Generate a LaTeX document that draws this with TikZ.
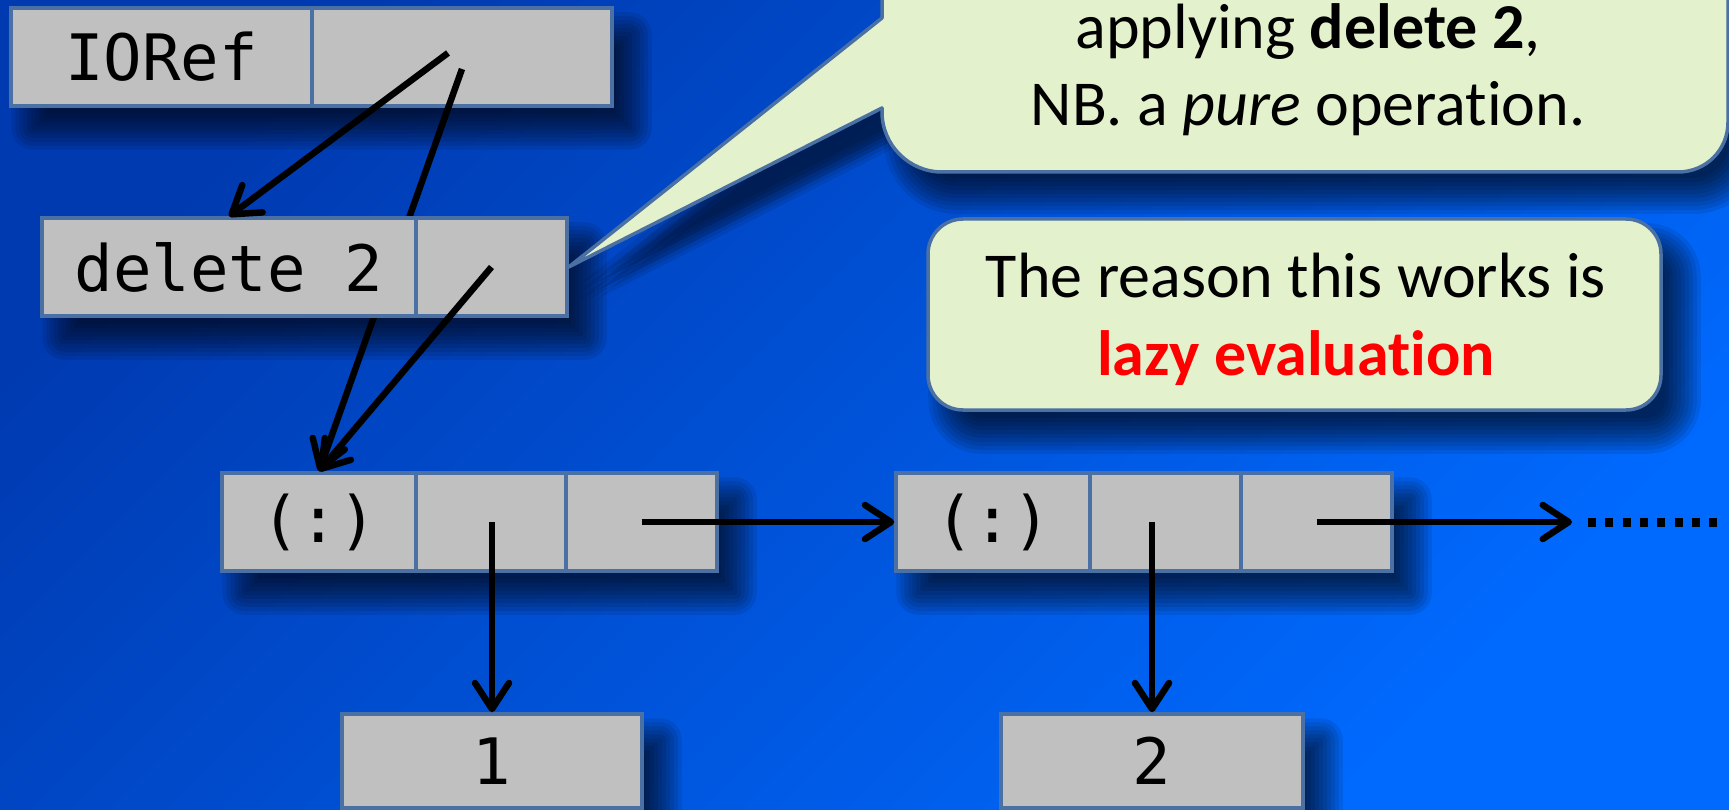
\documentclass[tikz,border=0pt]{standalone}
\usepackage{fontspec}
\setmainfont{Carlito}[Ligatures={TeX,NoCommon,NoContextual}]
\newfontfamily\codefont{DejaVu Sans Mono}
\usetikzlibrary{arrows.meta}

\definecolor{bgdark}{HTML}{003AB0}
\definecolor{bglight}{HTML}{006AFF}
\definecolor{cellgray}{HTML}{C0C0C0}
\definecolor{cellline}{HTML}{4A70A4}
\definecolor{notefill}{HTML}{E3F2CC}
\definecolor{lazyred}{HTML}{FF0000}

\pgfdeclarelayer{bg}
\pgfdeclarelayer{shadows}
\pgfsetlayers{bg,shadows,main}

% soft drop shadow: stacked translucent rectangles, from larger to smaller
\newcommand\softshadow[3]{%
  \begin{pgfonlayer}{shadows}
    \foreach \e in {18,14,...,-18}{%
      \pgfmathsetmacro\rr{max(#3+\e,1)}%
      \pgfmathsetmacro\ax{20-\e}%
      \pgfmathsetmacro\ay{24-\e}%
      \pgfmathsetmacro\bx{20+\e}%
      \pgfmathsetmacro\by{24+\e}%
      \fill[black, opacity=0.09, rounded corners=\rr pt]
        ([shift={(\ax,\ay)}]#1) rectangle ([shift={(\bx,\by)}]#2);
    }%
  \end{pgfonlayer}}

\begin{document}
\begin{tikzpicture}[x=1pt, y=-1pt,
  cell/.style={draw=cellline, fill=cellgray, line width=3.5pt, inner sep=0pt,
    minimum height=98pt, font=\codefont\fontsize{64}{77}\selectfont},
  ptr/.style={line width=6.5pt, -{Straight Barb[length=26pt,width=34pt,round]}},
  note/.style={draw=cellline, fill=notefill, line width=3.5pt, line join=round},
  notetext/.style={font=\fontsize{64}{77}\selectfont, inner sep=0pt, anchor=base},
]
\useasboundingbox (0,0) rectangle (1729,810);

% background
\begin{pgfonlayer}{bg}
  \shade[top color=bgdark, bottom color=bglight, shading angle=45]
    (0,0) rectangle (1729,810);
\end{pgfonlayer}

% IORef cell
\node[cell, minimum width=301pt] (ioref1) at (161.5,57) {IORef};
\node[cell, minimum width=300pt] (ioref2) at (462,57) {};

% first cons cell
\node[cell, minimum width=194pt] (consA1) at (319,522) {(:)};
\node[cell, minimum width=150pt] (consA2) at (491,522) {};
\node[cell, minimum width=151pt] (consA3) at (641.5,522) {};

% second cons cell
\node[cell, minimum width=194pt] (consB1) at (993,522) {(:)};
\node[cell, minimum width=151pt] (consB2) at (1165.5,522) {};
\node[cell, minimum width=151pt] (consB3) at (1316.5,522) {};

% list elements
\node[cell, minimum width=300pt, minimum height=94pt] (one) at (492,761) {1};
\node[cell, minimum width=302pt, minimum height=94pt] (two) at (1152,761) {2};

% old pointer, running behind the thunk
\coordinate (p1) at (448,53);
\coordinate (p2) at (462,69);
\draw[ptr] (p2) -- (consA1.north);

% thunk
\node[cell, minimum width=374pt] (del1) at (229,267) {delete 2};
\node[cell, minimum width=151pt] (del2) at (491.5,267) {};

% callout pointing at the thunk
\coordinate (tailtop) at (882,18);
\coordinate (tailbot) at (882,108);
\coordinate (calloutNW) at (882,-80);
\coordinate (calloutSE) at (1728,172);
\path[note] (del2.east) -- (tailtop) -- (calloutNW) -- (1728,-80) -- (1728,122)
  .. controls (1728,150) and (1706,172) .. (1678,172) -- (942,172)
  .. controls (909,172) and (882,145) .. (882,112) -- (tailbot) -- cycle;
\node[notetext] (noteA) at (1308,49) {applying \textbf{delete 2},};
\node[notetext] (noteB) at (1308,126) {NB. a \textit{pure} operation.};

% second callout
\node[note, rounded corners=35pt, minimum width=733pt, minimum height=191pt] (why)
  at (1294.5,314.5) {};
\node[notetext] (whyA) at (1296,298) {The reason this works is};
\node[notetext, text=lazyred] (whyB) at (1296,375) {\textbf{lazy evaluation}};

% pointers
\draw[ptr] (p1) -- (del1.north);
\draw[ptr] (del2.center) -- (consA1.north);
\coordinate (headA) at (one.north |- consA2.center);
\draw[ptr] (headA) -- (one.north);
\draw[ptr] (consA3.center) -- (consB1.west);
\coordinate (headB) at (two.north |- consB2.center);
\draw[ptr] (headB) -- (two.north);
\coordinate (more) at (1572,522);
\draw[ptr] (consB3.center) -- (more);
\coordinate (dots0) at (1588,522);
\coordinate (dots1) at (1722,522);
\draw[line width=9pt, dash pattern=on 8pt off 9.3pt] (dots0) -- (dots1);

% shadows
\softshadow{ioref1.north west}{ioref2.south east}{4}
\softshadow{del1.north west}{del2.south east}{4}
\softshadow{consA1.north west}{consA3.south east}{4}
\softshadow{consB1.north west}{consB3.south east}{4}
\softshadow{one.north west}{one.south east}{4}
\softshadow{two.north west}{two.south east}{4}
\softshadow{why.north west}{why.south east}{35}
\softshadow{calloutNW}{calloutSE}{55}
\begin{pgfonlayer}{shadows}
  \foreach \sx in {12,20,28}{
    \foreach \sy in {16,24,32}{
      \fill[black, opacity=0.085]
        ([shift={(\sx,\sy)}]del2.east) -- ([shift={(\sx,\sy)}]tailtop)
        -- ([shift={(\sx,\sy)}]tailbot) -- cycle;
    }
  }
\end{pgfonlayer}
\end{tikzpicture}
\end{document}
